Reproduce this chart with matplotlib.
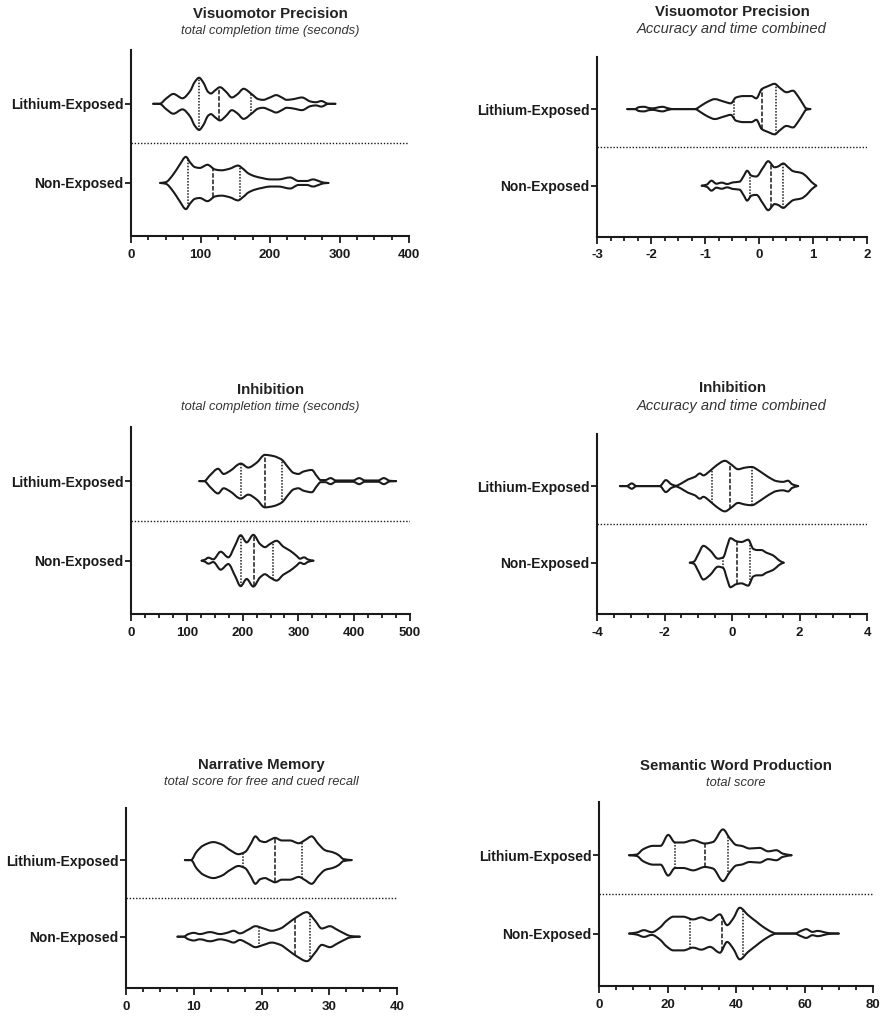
import matplotlib
matplotlib.use('Agg')
import matplotlib.pyplot as plt
from matplotlib.ticker import MultipleLocator
from matplotlib.path import Path
from matplotlib.patches import PathPatch
import numpy as np

plt.rcParams['font.family'] = ['Liberation Sans', 'DejaVu Sans']
plt.rcParams['axes.unicode_minus'] = False

groups = ['Non-Exposed', 'Lithium-Exposed']

# violin outlines: position on the score axis and half width
# (in units of the distance between the two rows). quartiles are [Q1, median, Q3]

# Visuomotor Precision - total completion time (seconds)
vpt_li_x = [32, 41, 51, 61, 74, 85, 92, 98, 104, 111, 115, 121, 128, 137, 145, 153, 162, 174, 183, 190,
            200, 209, 217, 224, 234, 246, 258, 266, 274, 284, 294]
vpt_li_w = [0, 0, .07, .125, .07, .16, .28, .33, .27, .15, .13, .17, .21, .15, .08, .12, .19, .12, .06, .05,
            .08, .11, .08, .05, .06, .08, .03, .02, .035, 0, 0]
vpt_no_x = [42, 50, 61, 70, 79, 85, 92, 99, 110, 121, 130, 142, 154, 161, 169, 178, 190, 200, 212, 229,
            241, 253, 262, 270, 277, 284]
vpt_no_w = [0, .01, .11, .23, .33, .26, .2, .19, .23, .17, .16, .18, .22, .18, .12, .085, .06, .045, .045, .07,
            .025, .025, .045, .025, .005, 0]
vpt_li_q = [98, 127, 172]
vpt_no_q = [81.5, 118.5, 157]

# Visuomotor Precision - accuracy and time combined
vpc_li_x = [-2.44, -2.30, -2.22, -2.13, -2.03, -1.96, -1.87, -1.79, -1.68, -1.59,
            -1.19, -1.06, -0.94, -0.82, -0.66, -0.52, -0.43, -0.29, -0.14, -0.05,
            0.05, 0.17, 0.29, 0.38, 0.51, 0.63, 0.72, 0.82, 0.87, 0.95]
vpc_li_w = [0, 0, .026, .03, .013, .01, .022, .03, .01, 0,
            0, .05, .1, .13, .1, .075, .15, .17, .17, .14,
            .26, .3, .33, .28, .22, .24, .17, .06, .01, 0]
vpc_no_x = [-1.06, -0.97, -0.88, -0.79, -0.69, -0.59, -0.48, -0.36, -0.28, -0.22,
            -0.14, -0.05, 0.08, 0.17, 0.29, 0.35, 0.45, 0.54, 0.63, 0.79, 0.88, 0.97, 1.06]
vpc_no_w = [0, .013, .065, .026, .04, .022, .043, .052, .13, .195,
            .13, .12, .24, .32, .24, .25, .29, .24, .19, .165, .12, .05, 0]
vpc_li_q = [-0.47, 0.06, 0.32]
vpc_no_q = [-0.17, 0.22, 0.45]

# Inhibition - total completion time (seconds)
inht_li_x = [122.5, 131, 142, 156, 166, 177, 197, 210, 225, 240, 255, 270, 282, 291, 300, 309, 324, 333,
             340, 348, 358, 367, 398, 409, 419, 443, 453, 464, 475]
inht_li_w = [0, 0, .076, .155, .09, .126, .22, .17, .23, .33, .315, .27, .17, .105, .09, .12, .14, .063,
             .013, .013, .038, .008, .008, .038, .008, .008, .038, .004, 0]
inht_no_x = [126.6, 132.6, 138.6, 147.5, 160.7, 174.4, 186.4, 196.5, 207.3, 219.2, 231.2, 240.1, 249.1,
             261, 273, 285, 296.9, 302.9, 310, 317.8, 326.8]
inht_no_w = [0, .013, .038, .017, .113, .042, .19, .32, .23, .325, .21, .17, .21,
             .25, .176, .126, .06, .025, .042, .013, 0]
inht_li_q = [198, 241, 270]
inht_no_q = [196.5, 220, 255]

# Inhibition - accuracy and time combined
inhc_li_x = [-3.32, -3.12, -2.97, -2.83, -2.14, -1.96, -1.79, -1.66, -1.5, -1.3, -1.1, -0.95, -0.85, -0.66,
             -0.46, -0.21, -0.02, 0.18, 0.38, 0.58, 0.82, 1.07, 1.32, 1.51, 1.66, 1.79, 1.96]
inhc_li_w = [0, 0, .035, 0, 0, .078, .022, .005, .035, .087, .12, .165, .14, .195,
             .27, .33, .28, .22, .24, .25, .195, .12, .065, .055, .07, .022, 0]
inhc_no_x = [-1.25, -1.13, -1.0, -0.85, -0.66, -0.41, -0.26, -0.14, -0.05, 0.13, 0.28, 0.48, 0.63, 0.74,
             0.87, 1.02, 1.22, 1.36, 1.46, 1.53]
inhc_no_w = [0, .013, .11, .22, .165, .052, .07, .22, .32, .28, .27, .3, .18, .165,
             .165, .13, .095, .043, .013, 0]
inhc_li_q = [-0.58, -0.07, 0.6]
inhc_no_q = [-0.28, 0.16, 0.53]

# Narrative Memory - total score for free and cued recall
nm_li_x = [8.7, 9.6, 10.4, 11.4, 12.9, 14.1, 15.4, 16.6, 17.6, 18.4, 19.1, 19.8, 20.5, 21.3, 22, 23, 24.2,
           25.5, 26.5, 27.4, 28.4, 29.4, 30.6, 31.4, 32.1, 33.3]
nm_li_w = [0, 0, .107, .19, .235, .205, .128, .077, .107, .21, .31, .25, .235, .265, .29, .256, .256,
           .22, .265, .31, .21, .128, .1, .064, .013, 0]
nm_no_x = [7.6, 8.5, 9.2, 10, 10.9, 12.4, 13.9, 14.9, 15.9, 16.8, 18.1, 19.1, 20.3, 21.5, 22.8, 24, 25.2,
           26.7, 27.9, 28.9, 30.1, 31.1, 32.4, 33.1, 34.5]
nm_no_w = [0, 0, .034, .05, .034, .06, .034, .05, .077, .043, .094, .137, .107, .077, .107, .18, .256,
           .32, .21, .107, .137, .094, .034, .009, 0]
nm_li_q = [17.2, 22, 26]
nm_no_q = [19.6, 25, 27.1]

# Semantic Word Production - total score
swp_li_x = [8.8, 11, 12.9, 15.8, 18, 20.2, 22.2, 24.6, 27.5, 30.9, 33.3, 36.2, 38.2, 40.1, 41.6, 44, 46.9,
            49.4, 51.8, 53.7, 56.2]
swp_li_w = [0, .009, .077, .12, .12, .26, .163, .163, .193, .15, .17, .33, .215, .13, .12, .086, .094,
            .05, .064, .02, 0]
swp_no_x = [8.8, 11, 13.1, 15.4, 17.8, 19.7, 21.7, 24.6, 27.5, 29.9, 32.4, 35.3, 37.4, 39.2, 41.1, 43.5,
            46, 47.9, 50.8, 51.8, 57.1, 59, 60.5, 62.3, 63.9, 65.4, 67.3, 70]
swp_no_w = [0, .013, .043, .017, .077, .163, .215, .215, .18, .206, .17, .245, .107, .193, .33, .236,
            .15, .086, .013, 0, 0, .034, .056, .021, .034, .021, .004, 0]
swp_li_q = [22.3, 30.9, 37.7]
swp_no_q = [26.5, 35.8, 42]

titles = ['Visuomotor Precision', 'Visuomotor Precision', 'Inhibition', 'Inhibition',
          'Narrative Memory', 'Semantic Word Production']
subtitles = ['total completion time (seconds)', 'Accuracy and time combined',
             'total completion time (seconds)', 'Accuracy and time combined',
             'total score for free and cued recall', 'total score']
x_ranges = [(0, 400), (-3, 2), (0, 500), (-4, 4), (0, 40), (0, 80)]
x_major = [100, 1, 100, 2, 10, 20]

violins = [
    (vpt_no_x, vpt_no_w, vpt_no_q, vpt_li_x, vpt_li_w, vpt_li_q),
    (vpc_no_x, vpc_no_w, vpc_no_q, vpc_li_x, vpc_li_w, vpc_li_q),
    (inht_no_x, inht_no_w, inht_no_q, inht_li_x, inht_li_w, inht_li_q),
    (inhc_no_x, inhc_no_w, inhc_no_q, inhc_li_x, inhc_li_w, inhc_li_q),
    (nm_no_x, nm_no_w, nm_no_q, nm_li_x, nm_li_w, nm_li_q),
    (swp_no_x, swp_no_w, swp_no_q, swp_li_x, swp_li_w, swp_li_q),
]

W, H = 884, 1016
# axes boxes in pixels: left, right, top, bottom
boxes = [(131, 409, 50, 236), (597, 867, 57, 237),
         (131, 410, 427, 614), (597, 867, 434, 614),
         (126, 397, 808, 988), (599, 873, 802, 986)]
title_y = [(14, 31), (12, 29), (390, 407), (388, 406), (765, 782), (766, 783)]
sub_size = [9.3, 10.6, 9.3, 10.6, 9.3, 9.3]

ink = '#1a1a1a'


def slopes(xs, ws):
    # monotone (pchip-like) tangents so the outline is smooth without overshoot
    h = np.diff(xs)
    d = np.diff(ws) / h
    m = np.zeros(len(xs))
    m[0], m[-1] = d[0], d[-1]
    for k in range(1, len(xs) - 1):
        if d[k - 1] * d[k] > 0:
            w1 = 2 * h[k] + h[k - 1]
            w2 = h[k] + 2 * h[k - 1]
            m[k] = (w1 + w2) / (w1 / d[k - 1] + w2 / d[k])
    return m


def width_at(v, xs, ws, m):
    k = int(np.clip(np.searchsorted(xs, v) - 1, 0, len(xs) - 2))
    h = xs[k + 1] - xs[k]
    t = (v - xs[k]) / h
    return ((2 * t**3 - 3 * t**2 + 1) * ws[k] + (t**3 - 2 * t**2 + t) * h * m[k]
            + (-2 * t**3 + 3 * t**2) * ws[k + 1] + (t**3 - t**2) * h * m[k + 1])


def curve(xs, ys, m):
    verts = [(xs[0], ys[0])]
    for k in range(len(xs) - 1):
        h = xs[k + 1] - xs[k]
        verts += [(xs[k] + h / 3, ys[k] + m[k] * h / 3),
                  (xs[k + 1] - h / 3, ys[k + 1] - m[k + 1] * h / 3),
                  (xs[k + 1], ys[k + 1])]
    return verts


def draw_violin(ax, xs, ws, q, yc):
    xs = np.asarray(xs, float)
    ws = np.asarray(ws, float)
    m = slopes(xs, ws)
    up = curve(xs, yc + ws, m)
    lo = curve(xs, yc - ws, -m)
    for v in (up, lo):
        codes = [Path.MOVETO] + [Path.CURVE4] * (len(v) - 1)
        ax.add_patch(PathPatch(Path(v, codes), fill=False, edgecolor=ink, lw=1.5,
                               joinstyle='round', capstyle='round'))
    for k, v in enumerate(q):
        h = width_at(v, xs, ws, m)
        ls = (0, (3, 1.2)) if k == 1 else (0, (1, 1))
        ax.plot([v, v], [yc - h, yc + h], color=ink, lw=1.1, ls=ls)


fig = plt.figure(figsize=(W / 100, H / 100), dpi=100)

for i in range(6):
    l, r, t, b = boxes[i]
    ax = fig.add_axes([l / W, 1 - b / H, (r - l) / W, (b - t) / H])
    no_x, no_w, no_q, li_x, li_w, li_q = violins[i]
    draw_violin(ax, no_x, no_w, no_q, 0)
    draw_violin(ax, li_x, li_w, li_q, 1)
    x0, x1 = x_ranges[i]
    ax.plot([x0, x1], [0.5, 0.5], color=ink, lw=1.0, ls=(0, (1, 1.3)))
    ax.set_xlim(x0, x1)
    ax.set_ylim(-0.67, 1.68)
    ax.xaxis.set_major_locator(MultipleLocator(x_major[i]))
    ax.xaxis.set_minor_locator(MultipleLocator(x_major[i] / 4))
    ax.set_yticks([0, 1])
    ax.set_yticklabels(groups, fontsize=10, fontweight='bold', color=ink)
    for lab in ax.get_xticklabels():
        lab.set_fontweight('bold')
    ax.tick_params(axis='x', which='major', length=5, width=1.3, labelsize=9.5, pad=4, colors=ink)
    ax.tick_params(axis='x', which='minor', length=3, width=1.3, colors=ink)
    ax.tick_params(axis='y', length=4.5, width=1.3, pad=1, colors=ink)
    for s in ['top', 'right']:
        ax.spines[s].set_visible(False)
    for s in ['left', 'bottom']:
        ax.spines[s].set_linewidth(1.5)
        ax.spines[s].set_color(ink)
    cx = (l + r) / 2 / W
    fig.text(cx, 1 - title_y[i][0] / H, titles[i], ha='center', va='center',
             fontsize=10.8, fontweight='bold', color='#222222')
    fig.text(cx, 1 - title_y[i][1] / H, subtitles[i], ha='center', va='center',
             fontsize=sub_size[i], style='italic', color='#333333')

fig.savefig('out.png', dpi=100)
